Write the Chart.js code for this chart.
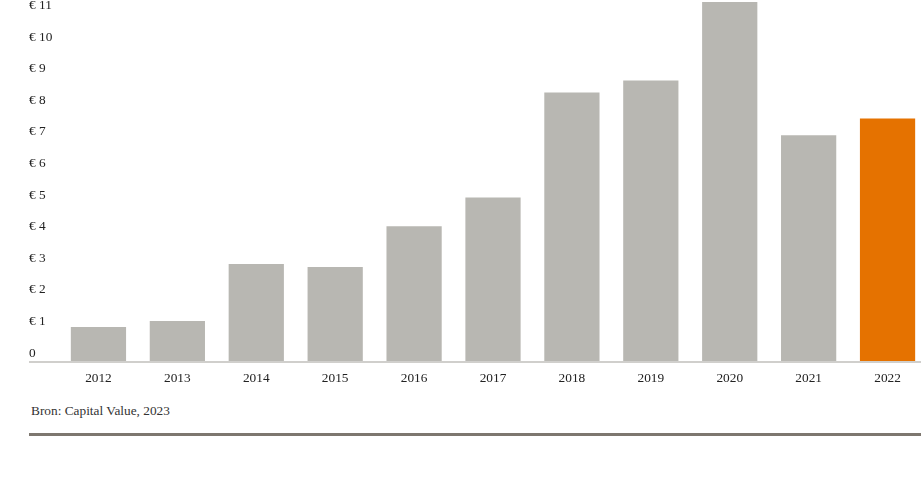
<!DOCTYPE html>
<html>
<head>
<meta charset="utf-8">
<script src="https://cdn.jsdelivr.net/npm/chart.js@4/dist/chart.umd.min.js"></script>
<style>
  html, body { margin: 0; padding: 0; background: #fff; overflow: hidden; }
  #wrap { position: absolute; left: 0; top: 0; width: 927px; height: 400px; }
  #source {
    position: absolute; left: 31px; top: 403px;
    font: 13.33px "Liberation Serif", "Times New Roman", serif;
    line-height: 16px; color: #333;
  }
  #rule { position: absolute; left: 29px; top: 433px; width: 900px; height: 3px; background: #7d776f; }
</style>
</head>
<body>
<div id="wrap"><canvas id="myChart" width="927" height="400"></canvas></div>
<div id="source">Bron: Capital Value, 2023</div>
<div id="rule"></div>
<script>
const years = ['2012', '2013', '2014', '2015', '2016', '2017', '2018', '2019', '2020', '2021', '2022'];
const values = [1.11, 1.30, 3.10, 3.01, 4.30, 5.21, 8.53, 8.91, 11.40, 7.18, 7.71];
const tickValues = [0, 1, 2, 3, 4, 5, 6, 7, 8, 9, 10, 11];

const grey = '#b8b7b2';
const orange = '#e57200';
const serif = '"Liberation Serif", "Times New Roman", serif';

const data = {
    labels: years,
    datasets: [{
        label: 'Waarde',
        data: values,
        backgroundColor: years.map((y, i) => i === years.length - 1 ? orange : grey),
        borderWidth: 0,
        barPercentage: 0.7,
        categoryPercentage: 1
    }]
};

const config = {
    type: 'bar',
    data: data,
    options: {
        responsive: false,
        animation: false,
        layout: {
            padding: { left: 29, right: 0, top: 0, bottom: 0 }
        },
        plugins: {
            legend: { display: false },
            tooltip: { enabled: false }
        },
        scales: {
            x: {
                grid: { display: false, drawTicks: false },
                border: { display: false },
                ticks: {
                    color: '#222',
                    padding: 8,
                    font: { family: serif, size: 13.33 }
                },
                afterFit: function (scale) {
                    scale.height = 38;
                }
            },
            y: {
                min: 0,
                max: 11.46,
                border: { display: false },
                grid: {
                    drawTicks: true,
                    tickLength: 30,
                    lineWidth: 2,
                    color: (ctx) => ctx.tick && ctx.tick.value === 0 ? '#d0cfcc' : 'rgba(0,0,0,0)',
                    tickColor: (ctx) => ctx.tick && ctx.tick.value === 0 ? '#d0cfcc' : 'rgba(0,0,0,0)'
                },
                ticks: {
                    color: '#222',
                    crossAlign: 'far',
                    labelOffset: -9,
                    font: { family: serif, size: 13.33 },
                    callback: (v) => v === 0 ? '0' : '€ ' + v
                },
                afterBuildTicks: function (scale) {
                    scale.ticks = tickValues.map(v => ({ value: v }));
                },
                afterFit: function (scale) {
                    scale.width = 30;
                    scale.paddingTop = 0;
                    scale.paddingBottom = 0;
                }
            }
        }
    }
};

Chart.defaults.color = '#222';

const ctx = document.getElementById('myChart');
const chart = new Chart(ctx, config);
</script>
</body>
</html>
